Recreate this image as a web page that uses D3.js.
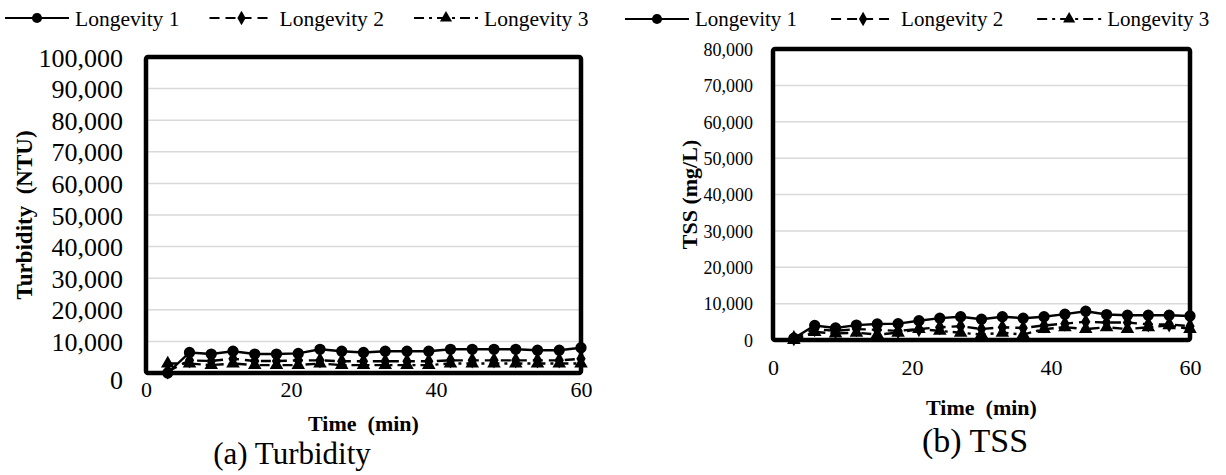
<!DOCTYPE html>
<html>
<head>
<meta charset="utf-8">
<script src="https://cdn.jsdelivr.net/npm/d3@7"></script>
<style>
  html, body { margin: 0; padding: 0; background: #fff; }
  svg text { font-family: "Liberation Serif", "Times New Roman", serif; fill: #000; }
</style>
</head>
<body>
<svg id="chart" width="1226" height="475"></svg>
<script>
// Sampling times (min)
const times = [3, 6, 9, 12, 15, 18, 21, 24, 27, 30, 33, 36, 39, 42, 45, 48, 51, 54, 57, 60];
const seriesNames = ["Longevity 1", "Longevity 2", "Longevity 3"];

// Turbidity (NTU)
const turbidity1 = [0, 6500, 6000, 6900, 6000, 6000, 6200, 7500, 6900, 6500, 6900, 6900, 6900, 7500, 7500, 7500, 7500, 7200, 7200, 8000];
const turbidity2 = [500, 4000, 3800, 4500, 3800, 3800, 4000, 4000, 3700, 3700, 3700, 3700, 3700, 4000, 4000, 4000, 4000, 4000, 4000, 4500];
const turbidity3 = [3000, 3000, 2500, 3000, 2500, 2500, 2500, 3000, 2500, 2500, 2500, 2500, 2500, 3000, 3000, 3000, 3000, 3000, 3000, 3000];

// TSS (mg/L)
const tss1 = [500, 4000, 3300, 4100, 4400, 4500, 5300, 6000, 6400, 5700, 6400, 6000, 6400, 7100, 7900, 7000, 6800, 6800, 6800, 6600];
const tss2 = [500, 3000, 2500, 3000, 2800, 2500, 3000, 3500, 3800, 3000, 3500, 3300, 4000, 4500, 5000, 4800, 4800, 4300, 4300, 3800];
const tss3 = [0, 2200, 1800, 2000, 1500, 2000, 3000, 2500, 2000, 1500, 2000, 1500, 3000, 3500, 3000, 3500, 3000, 3500, 4000, 3000];

// Axis ticks
const xTicks = [0, 20, 40, 60];
const turbidityTicks = [0, 10000, 20000, 30000, 40000, 50000, 60000, 70000, 80000, 90000, 100000];
const tssTicks = [0, 10000, 20000, 30000, 40000, 50000, 60000, 70000, 80000];

const SERIF = "'Liberation Serif', 'Times New Roman', serif";
const svg = d3.select("#chart");
const fmt = d3.format(",");

const styles = [
  { dash: null, marker: d3.symbolCircle, size: 100 },
  { dash: "10,6", marker: d3.symbolDiamond, size: 75 },
  { dash: "10,5,3,5", marker: d3.symbolTriangle, size: 80 }
];

// Legend row: line sample with marker, then the series name
function legend(x0, y0, fontSize, sample, gap) {
  const item = svg.append("g").attr("transform", `translate(${x0},${y0})`);
  let x = 0;
  seriesNames.forEach((name, i) => {
    const s = styles[i];
    item.append("line")
      .attr("x1", x).attr("x2", x + sample).attr("y1", 0).attr("y2", 0)
      .attr("stroke", "#000").attr("stroke-width", 2.2)
      .attr("stroke-dasharray", s.dash);
    item.append("path")
      .attr("d", d3.symbol().type(s.marker).size(s.size * 0.8)())
      .attr("transform", `translate(${x + sample / 2},0)`);
    const t = item.append("text")
      .attr("x", x + sample + 6).attr("y", 0).attr("dy", "0.35em")
      .style("font-family", SERIF).style("font-size", fontSize + "px")
      .text(name);
    x += sample + 6 + t.node().getComputedTextLength() + gap;
  });
}

function panel(o) {
  const g = svg.append("g");
  const x = d3.scaleLinear().domain([0, 60]).range([o.left, o.right]);
  const y = d3.scaleLinear().domain([0, o.yMax]).range([o.bottom, o.top]);

  // gridlines
  g.append("g").selectAll("line").data(o.yTicks.filter(v => v > 0 && v < o.yMax)).join("line")
    .attr("x1", o.left).attr("x2", o.right)
    .attr("y1", d => y(d)).attr("y2", d => y(d))
    .attr("stroke", "#d9d9d9").attr("stroke-width", 1.5);

  // y tick labels
  const ya = g.append("g").attr("transform", `translate(${o.left},0)`)
    .call(d3.axisLeft(y).tickValues(o.yTicks).tickFormat(fmt).tickSize(0).tickPadding(o.yPad));
  ya.select(".domain").remove();
  ya.selectAll("text")
    .style("font-family", SERIF).style("font-size", o.yFont + "px")
    .attr("dy", d => d === 0 ? o.zeroDy : "0.35em");

  // x tick labels
  const xa = g.append("g").attr("transform", `translate(0,${o.bottom})`)
    .call(d3.axisBottom(x).tickValues(xTicks).tickSize(0).tickPadding(o.xPad));
  xa.select(".domain").remove();
  xa.selectAll("text").style("font-family", SERIF).style("font-size", o.xFont + "px");

  // series lines and markers
  o.data.forEach((vals, i) => {
    const s = styles[i];
    const line = d3.line().x((d, j) => x(times[j])).y(d => y(d));
    g.append("path")
      .attr("d", line(vals))
      .attr("fill", "none").attr("stroke", "#000").attr("stroke-width", 2.4)
      .attr("stroke-dasharray", s.dash);
    g.append("g").selectAll("path").data(vals).join("path")
      .attr("d", d3.symbol().type(s.marker).size(s.size)())
      .attr("transform", (d, j) => `translate(${x(times[j])},${y(d)})`);
  });

  // plot frame
  g.append("rect")
    .attr("x", o.left).attr("y", o.top)
    .attr("width", o.right - o.left).attr("height", o.bottom - o.top)
    .attr("fill", "none").attr("stroke", "#000").attr("stroke-width", 4.5).attr("rx", 2);

  // axis titles and caption
  g.append("text")
    .attr("transform", `translate(${o.titleX},${(o.top + o.bottom) / 2}) rotate(-90)`)
    .attr("text-anchor", "middle").attr("dy", "0.35em")
    .style("font-family", SERIF).style("font-weight", "bold").style("font-size", o.yTitleFont + "px")
    .style("white-space", "pre")
    .text(o.yTitle);
  g.append("text")
    .attr("x", (o.left + o.right) / 2).attr("y", o.bottom + o.timeDy)
    .attr("text-anchor", "middle").attr("dy", "0.35em")
    .style("font-family", SERIF).style("font-weight", "bold").style("font-size", o.titleFont + "px")
    .style("white-space", "pre")
    .text("Time  (min)");
  g.append("text")
    .attr("x", o.captionX).attr("y", o.bottom + o.captionDy)
    .attr("text-anchor", "middle").attr("dy", "0.35em")
    .style("font-family", SERIF).style("font-size", o.captionFont + "px")
    .text(o.caption);
}

panel({
  left: 146, right: 581, top: 57, bottom: 373,
  yMax: 100000, yTicks: turbidityTicks, yFont: 26, yPad: 23, zeroDy: "0.6em",
  xFont: 22, xPad: 8,
  data: [turbidity1, turbidity2, turbidity3],
  yTitle: "Turbidity  (NTU)", titleX: 24, yTitleFont: 23, titleFont: 22,
  timeDy: 50, caption: "(a) Turbidity", captionX: 292, captionDy: 80, captionFont: 31
});
legend(5, 18, 21.5, 64, 30);

panel({
  left: 773, right: 1190, top: 49, bottom: 340,
  yMax: 80000, yTicks: tssTicks, yFont: 18, yPad: 20, zeroDy: "0.35em",
  xFont: 22, xPad: 19,
  data: [tss1, tss2, tss3],
  yTitle: "TSS (mg/L)", titleX: 689, yTitleFont: 22, titleFont: 22,
  timeDy: 67, caption: "(b) TSS", captionX: 975, captionDy: 100, captionFont: 34
});
legend(625, 19, 21, 64, 34);
</script>
</body>
</html>
